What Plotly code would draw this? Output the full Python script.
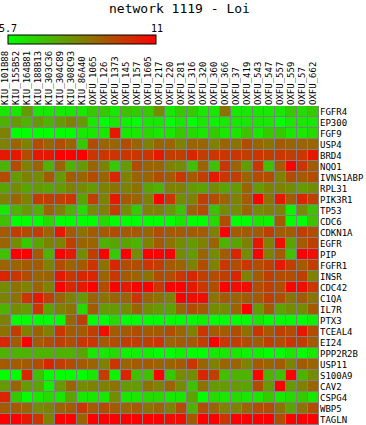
import plotly.graph_objects as go

title_text = "network 1119 - Loi"
samples = ["KIU_101B88", "KIU_155B52", "KIU_164B81", "KIU_188B13", "KIU_303C36", "KIU_304C89",
           "KIU_308C93", "KIU_86A40", "OXFU_1065", "OXFU_126", "OXFU_1373", "OXFU_145", "OXFU_157",
           "OXFU_1605", "OXFU_217", "OXFU_220", "OXFU_281", "OXFU_316", "OXFU_320", "OXFU_360",
           "OXFU_366", "OXFU_37", "OXFU_419", "OXFU_543", "OXFU_547", "OXFU_557", "OXFU_559",
           "OXFU_57", "OXFU_662"]
genes = ["FGFR4", "EP300", "FGF9", "USP4", "BRD4", "NQO1", "IVNS1ABP", "RPL31", "PIK3R1", "TP53",
         "CDC6", "CDKN1A", "EGFR", "PIP", "FGFR1", "INSR", "CDC42", "C1QA", "IL7R", "PTX3",
         "TCEAL4", "EI24", "PPP2R2B", "USP11", "S100A9", "CAV2", "CSPG4", "WBP5", "TAGLN"]
zmin_val = 5.7
zmax_val = 11

expr = [
    [6.2,6.2,7.8,6.2,6.2,6.2,6.2,6.2,6.8,6.8,6.2,7.0,6.8,6.8,8.1, 6.2,6.8,6.8,6.2,6.2,8.6,6.2,6.2,6.2,6.2,6.2,6.8,6.5,6.8],
    [7.3,7.8,7.3,7.8,7.3,7.8,8.3,7.8,6.2,5.7,6.2,6.0,5.7,6.2,6.2, 5.7,6.2,5.7,6.2,6.0,6.2,6.2,6.2,6.2,6.2,5.7,6.2,6.2,6.2],
    [8.3,5.7,5.7,5.7,5.7,5.7,5.7,6.2,6.2,6.2,10.5,6.2,6.2,6.5,6.2, 6.2,6.8,6.5,6.2,6.8,6.2,6.2,7.0,6.2,6.8,6.8,6.2,6.2,6.5],
    [8.3,8.9,8.3,9.4,8.9,9.4,8.9,6.8,9.4,8.9,8.9,9.4,8.9,8.3,8.9, 8.9,8.3,8.9,8.9,8.3,8.9,8.6,9.4,8.9,8.6,9.1,8.9,8.9,8.9],
    [10.5,10.5,9.4,10.5,10.5,11.0,11.0,11.0,9.9,9.9,9.9,9.9,9.9,9.9,10.5, 9.7,9.7,10.2,9.7,9.9,9.9,9.9,9.7,9.9,9.7,9.9,9.7,9.9,10.5],
    [7.3,9.4,8.3,8.9,7.3,8.9,7.3,7.8,8.9,8.3,6.8,7.8,9.4,8.9,8.9, 8.3,8.1,7.0,8.9,7.0,9.9,8.9,7.8,9.9,7.0,9.1,11.0,9.9,9.1],
    [9.4,7.8,8.3,8.1,9.1,7.8,9.1,8.9,9.4,8.9,10.2,8.3,8.9,8.9,9.4, 9.1,9.9,9.1,9.7,10.5,9.9,9.7,8.9,9.4,9.4,8.3,9.4,9.1,9.4],
    [7.6,8.1,7.6,7.8,7.6,7.8,8.3,8.1,7.8,8.3,8.6,8.3,8.6,7.6,7.3, 8.3,8.3,7.8,7.6,8.1,7.6,7.8,8.9,7.8,8.3,8.3,8.1,7.8,8.1],
    [8.3,8.9,8.3,9.7,9.7,9.7,9.9,7.6,9.7,8.3,10.5,9.1,8.9,8.3,11.0, 9.9,8.1,8.3,9.7,9.4,8.9,8.3,9.1,11.0,8.6,10.5,9.1,10.2,9.7],
    [6.2,7.3,7.8,7.3,8.9,8.3,7.3,6.5,8.1,8.3,9.7,8.1,6.8,8.3,8.3, 7.8,7.0,8.9,9.4,7.0,8.1,8.1,8.9,8.1,8.3,8.3,6.0,8.1,7.0],
    [7.0,5.7,5.7,5.7,6.5,5.7,5.7,5.7,5.7,6.5,5.7,5.7,5.7,5.7,5.7, 5.7,6.2,5.7,5.7,6.5,9.4,5.7,5.7,6.2,6.0,9.1,5.7,5.7,7.0],
    [9.1,9.7,9.4,9.7,8.9,10.5,9.1,8.6,9.1,9.1,9.4,9.1,9.1,8.9,9.4, 9.1,9.1,9.1,9.1,8.3,11.0,9.1,9.1,9.1,9.7,9.1,9.1,9.7,9.4],
    [8.9,8.1,6.8,7.6,8.3,8.3,9.7,8.9,8.9,7.3,7.6,7.6,7.3,8.3,9.1, 8.6,8.1,7.8,8.3,8.9,7.3,7.6,8.3,10.5,8.3,10.7,7.6,9.1,9.7],
    [7.0,11.0,11.0,9.1,7.3,11.0,10.5,8.1,9.7,11.0,6.8,11.0,8.1,11.0,11.0, 11.0,8.1,7.8,8.9,8.1,9.1,10.2,8.1,11.0,8.3,9.1,7.0,11.0,10.7],
    [8.9,8.9,9.1,9.1,8.3,9.4,8.9,9.1,9.9,8.6,10.2,9.4,9.4,9.9,9.7, 9.1,8.9,8.3,9.4,8.3,9.9,9.4,9.9,9.4,9.7,10.5,9.7,9.1,9.7],
    [10.2,9.9,9.4,8.9,8.9,10.5,9.9,10.2,10.2,8.9,9.9,9.1,8.9,8.6,9.4, 9.4,9.9,10.2,9.7,9.4,9.7,10.2,8.3,9.1,9.7,9.4,9.4,9.7,8.3],
    [8.1,8.6,8.3,8.9,8.3,11.0,10.2,10.5,11.0,9.4,11.0,10.5,11.0,11.0,9.9, 11.0,11.0,10.5,9.9,9.4,11.0,10.7,10.7,9.4,9.7,9.4,11.0,10.7,9.9],
    [8.3,8.6,9.9,10.5,9.7,8.9,8.3,7.8,8.9,8.6,8.9,8.9,9.9,8.9,8.6, 8.3,11.0,10.7,10.7,8.6,9.1,8.9,9.1,9.1,9.7,9.4,8.6,9.1,8.6],
    [7.3,8.1,7.8,9.9,7.6,8.3,8.6,6.5,9.1,7.8,7.8,8.1,8.9,8.1,7.8, 7.6,8.9,9.4,9.1,8.1,8.1,8.9,11.0,7.8,9.1,7.6,8.1,8.1,9.1],
    [8.3,5.7,5.7,5.7,5.7,5.7,8.9,9.7,5.7,5.7,6.5,5.7,5.7,5.7,5.7, 5.7,5.7,5.7,6.0,5.7,5.7,5.7,5.7,6.2,5.7,5.7,5.7,5.7,6.0],
    [8.6,9.7,8.3,8.9,8.3,9.9,9.1,9.1,9.7,10.7,9.1,9.1,9.4,9.1,9.1, 9.4,8.9,8.3,9.9,9.1,9.1,9.4,8.6,9.9,9.1,9.7,9.4,10.5,9.4],
    [10.2,9.1,11.0,9.1,9.4,9.7,9.4,9.9,9.9,9.1,9.4,9.7,9.7,9.7,9.9, 8.9,9.1,9.1,9.7,11.0,9.9,9.7,9.4,9.1,9.7,9.4,9.9,9.7,9.1],
    [7.3,7.3,7.3,7.3,7.3,7.3,7.3,7.6,6.2,6.2,6.5,6.0,6.0,6.0,5.7, 5.7,6.0,5.7,5.7,6.2,6.2,6.2,6.0,6.0,5.7,5.7,6.2,5.7,6.2],
    [9.1,9.1,9.1,9.4,10.2,9.7,9.4,9.1,8.9,8.3,9.9,8.9,9.1,9.1,8.9, 8.9,9.1,9.9,8.9,8.3,8.9,8.9,8.3,9.1,8.9,9.1,8.3,9.1,8.9],
    [5.7,5.7,10.2,7.0,5.7,5.7,5.7,5.7,6.2,9.7,6.0,10.2,7.0,7.0,11.0, 6.8,8.1,8.1,10.2,9.7,7.0,7.3,7.3,11.0,7.3,7.0,11.0,7.3,8.1],
    [7.8,8.9,7.8,7.6,6.0,7.8,8.9,8.1,8.3,8.3,8.6,7.8,7.8,8.6,8.3, 8.9,8.1,7.0,8.6,7.8,7.8,7.8,7.6,9.4,7.8,11.0,7.8,8.3,8.9],
    [10.2,6.8,5.7,6.2,6.5,6.2,7.6,6.2,6.2,6.2,8.1,6.2,6.2,6.5,6.5, 6.2,6.2,7.6,5.7,6.5,6.2,6.5,6.2,6.2,6.8,6.2,6.5,6.8,6.2],
    [9.1,9.1,8.9,8.1,8.3,8.9,9.1,9.9,9.1,9.4,9.1,8.9,9.1,8.6,8.9, 8.3,9.4,7.3,9.4,8.9,8.3,8.3,8.9,9.4,9.4,8.6,7.6,8.6,9.4],
    [11.0,11.0,10.5,9.9,8.3,11.0,11.0,8.9,11.0,11.0,11.0,11.0,11.0,11.0,11.0, 10.7,10.7,9.1,11.0,11.0,9.9,11.0,11.0,11.0,11.0,9.4,11.0,11.0,11.0],
]

for i, r in enumerate(expr):
    if len(r) != len(samples):
        raise ValueError(f"row {i} ({genes[i]}) has {len(r)} values")
if len(expr) != len(genes):
    raise ValueError("row count")

W, H = 366, 425
ML, MR, MT, MB = 0, 47, 106, 0
PW = W - ML - MR
PH = H - MT - MB
mono = "DejaVu Sans Mono"


def px_x(x):
    return (x - ML) / PW


def px_y(y):
    return 1 + (MT - y) / PH


fig = go.Figure(go.Heatmap(
    z=expr, x=samples, y=genes,
    zmin=zmin_val, zmax=zmax_val,
    colorscale=[[0, "rgb(0,255,0)"], [1, "rgb(255,0,0)"]],
    xgap=1, ygap=1,
    colorbar=dict(
        orientation="h", thickness=9, thicknessmode="pixels",
        len=148, lenmode="pixels",
        x=px_x(8), xanchor="left", y=px_y(35), yanchor="top",
        xpad=0, ypad=0, outlinewidth=1, outlinecolor="black",
        showticklabels=False, ticks="",
    ),
))

fig.update_layout(
    width=W, height=H,
    margin=dict(l=ML, r=MR, t=MT, b=MB, pad=0, autoexpand=False),
    paper_bgcolor="white", plot_bgcolor="#808080",
    font=dict(family=mono, size=9, color="black"),
    xaxis=dict(side="top", tickangle=-90, showgrid=False, zeroline=False, ticks="",
               tickfont=dict(family=mono, size=9), showline=False, automargin=False),
    yaxis=dict(side="right", autorange="reversed", showgrid=False, zeroline=False, ticks="",
               tickfont=dict(family=mono, size=9), showline=False, automargin=False),
    annotations=[
        dict(text=title_text, x=px_x(180), y=px_y(8.5), xref="paper", yref="paper",
             xanchor="center", yanchor="middle", showarrow=False,
             font=dict(family=mono, size=13, color="black")),
        dict(text=str(zmin_val), x=px_x(8), y=px_y(29), xref="paper", yref="paper",
             xanchor="center", yanchor="middle", showarrow=False, font=dict(family=mono, size=10)),
        dict(text=str(zmax_val), x=px_x(157), y=px_y(29), xref="paper", yref="paper",
             xanchor="center", yanchor="middle", showarrow=False, font=dict(family=mono, size=10)),
    ],
)

fig.write_html("out.html", config={"displayModeBar": False},
               post_script="document.body.style.margin='0';document.body.style.padding='0';")
